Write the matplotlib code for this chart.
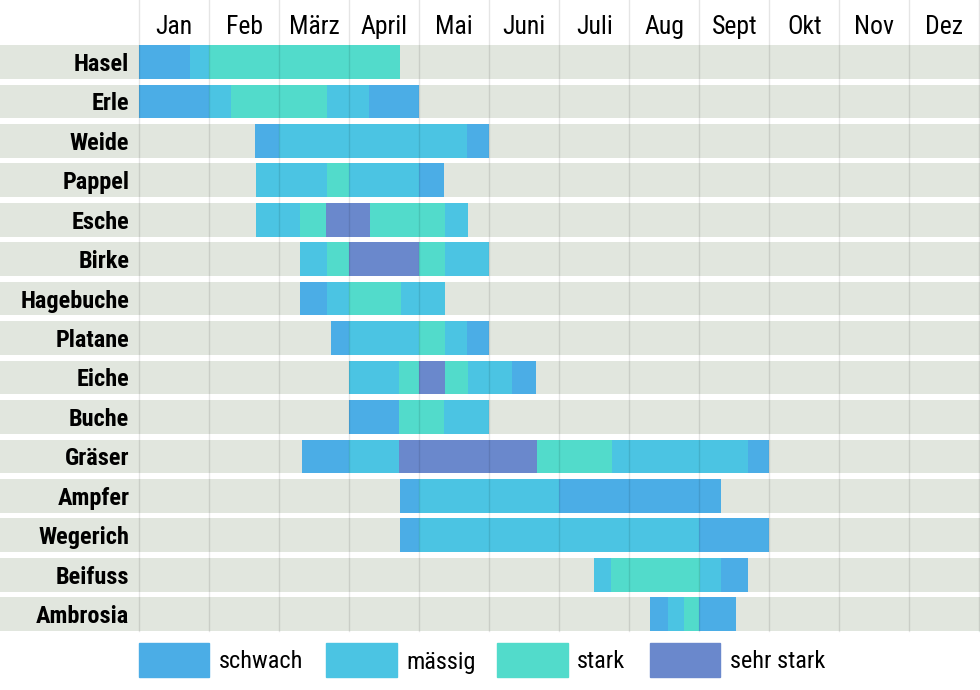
import matplotlib
matplotlib.use('Agg')
import matplotlib.pyplot as plt
from matplotlib.patches import Rectangle

# months and plants
months = ['Jan', 'Feb', 'März', 'April', 'Mai', 'Juni', 'Juli', 'Aug', 'Sept', 'Okt', 'Nov', 'Dez']
plants = ['Hasel', 'Erle', 'Weide', 'Pappel', 'Esche', 'Birke', 'Hagebuche', 'Platane',
          'Eiche', 'Buche', 'Gräser', 'Ampfer', 'Wegerich', 'Beifuss', 'Ambrosia']
levels = ['schwach', 'mässig', 'stark', 'sehr stark']

# segment edges (in months from 1 Jan) and intensity level of each segment
edges = [
    [0, 0.73, 1.0, 3.73],
    [0, 1.0, 1.31, 2.68, 3.28, 4.0],
    [1.65, 2.0, 4.68, 5.0],
    [1.67, 2.68, 3.0, 4.0, 4.35],
    [1.67, 2.30, 2.67, 3.30, 4.36, 4.69],
    [2.30, 2.68, 3.0, 4.0, 4.36, 5.0],
    [2.30, 2.68, 3.0, 3.74, 4.36],
    [2.74, 3.0, 4.0, 4.36, 4.68, 5.0],
    [3.0, 3.71, 4.0, 4.37, 4.69, 5.32, 5.67],
    [3.0, 3.71, 4.35, 5.0],
    [2.33, 3.0, 3.71, 5.68, 6.75, 8.70, 9.0],
    [3.72, 4.0, 6.0, 8.31],
    [3.72, 4.0, 8.0, 9.0],
    [6.50, 6.74, 8.01, 8.31, 8.70],
    [7.30, 7.55, 7.78, 8.0, 8.53],
]
seg_levels = [
    [0, 1, 2],
    [0, 1, 2, 1, 0],
    [0, 1, 0],
    [1, 2, 1, 0],
    [1, 2, 3, 2, 1],
    [1, 2, 3, 2, 1],
    [0, 1, 2, 1],
    [0, 1, 2, 1, 0],
    [1, 2, 3, 2, 1, 0],
    [0, 2, 1],
    [0, 1, 3, 2, 1, 0],
    [0, 1, 0],
    [0, 1, 0],
    [1, 2, 1, 0],
    [0, 1, 2, 0],
]

colors = ['#4BADE6', '#4BC4E3', '#52DBCB', '#6A88CC']
row_bg = '#E1E6DE'
fam = ['Roboto Condensed', 'Roboto', 'DejaVu Sans']

fig = plt.figure(figsize=(9.8, 6.9), dpi=100)
ax = fig.add_axes([0, 0, 1, 1])
ax.axis('off')

# pixel mapping: 70 px per month starting at x=139.3, 39.45 px per row, first row centre y=61.9
px_month = 70.0
x0 = 139.3
row_pitch = 39.45
y0 = 61.9
ax.set_xlim(-x0 / px_month, (980 - x0) / px_month)
ax.set_ylim((690 - y0) / row_pitch, -y0 / row_pitch)
bar_h = 33.7 / row_pitch

xl = ax.get_xlim()
for i, name in enumerate(plants):
    ax.barh(i, xl[1] - xl[0], left=xl[0], height=bar_h, color=row_bg, zorder=1)
    e = edges[i]
    for j, lv in enumerate(seg_levels[i]):
        ax.barh(i, e[j + 1] - e[j], left=e[j], height=bar_h, color=colors[lv], zorder=2)
    ax.text(-10 / px_month, i + 2.5 / row_pitch, name, ha='right', va='center', fontsize=17.5,
            fontweight='bold', family=fam, zorder=5)

# month grid lines
bottom = len(plants) - 1 + bar_h / 2
top = -y0 / row_pitch
for m in range(13):
    ax.plot([m, m], [top, bottom], color='black', alpha=0.1, lw=1, zorder=4)

for m, lab in enumerate(months):
    ax.text(m + 0.5, (27 - y0) / row_pitch, lab, ha='center', va='center', fontsize=18.5,
            family=fam)

# legend
leg_x = [138.5, 326.0, 497.0, 649.8]
leg_y = (660 - y0) / row_pitch
for k, lab in enumerate(levels):
    lx = (leg_x[k] - x0) / px_month
    ax.add_patch(Rectangle((lx, leg_y - bar_h / 2), 70.5 / px_month, bar_h,
                           color=colors[k], zorder=3))
    ax.text(lx + 80 / px_month, leg_y + 2 / row_pitch, lab, ha='left', va='center',
            fontsize=17.5, family=fam)

plt.savefig('out.png', dpi=100)
